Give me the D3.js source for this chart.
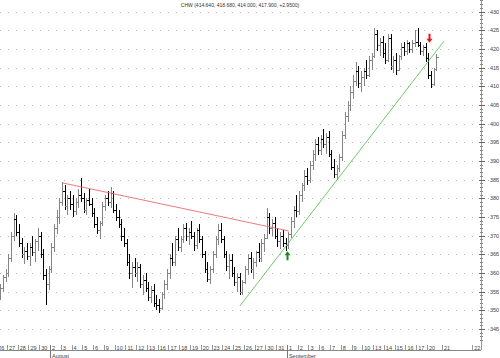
<!DOCTYPE html>
<html><head><meta charset="utf-8">
<script src="https://cdn.jsdelivr.net/npm/d3@7"></script>
<style>body{margin:0;background:#fff}svg{display:block}text{font-family:"Liberation Sans",Arial,sans-serif}</style>
</head><body><svg id="c" width="500" height="358"></svg>
<script>
const title = "CHW (414.640, 418.680, 414.000, 417.900, +2.9500)";
const dayLabels = ["26","27","28","29","30","2","3","4","5","6","9","10","11","12","13","16","17","18","19","20","23","24","25","26","27","30","31","1","2","3","6","7","8","9","10","13","14","15","16","17","20","21","22"];
const dayPos = [0,1,2,3,4,5,6,7,8,9,10,11,12,13,14,15,16,17,18,19,20,21,22,23,24,25,26,27,28,29,30,31,32,33,34,35,36,37,38,39,40,41.4,44.2];
const monthLabels = ["August","September"];
const monthPos = [5,27];
const barsPerDay = 4;
const yTicks = [345,350,355,360,365,370,375,380,385,390,395,400,405,410,415,420,425,430];
const opens = [
356,354.5,356,358.8, 360,364,370,374.5, 371,368,365,366, 364.5,367,365.5,368.5, 370,365,359.5,357,
361,367,372,375, 379,382,378,380, 378.5,376.5,379,381, 380,377,379.5,378.5, 376,373,371.5,373.5,
378,380,379,381.5, 377,375,373,370, 368,363,360,361.5, 360,361.5,357,358, 356,353.5,355.5,352,
351.5,350.5,354.5,357, 360,364,363,369, 367,369,372,370, 371,370,367.5,371.5, 369,365,361,358.5,
361,365,369,371.5, 369,365,362,363.5, 360,357.5,359,355, 357.5,361,364,361, 363,365.5,364,368,
369.5,375,372,373.5, 370,368.5,370,368, 367.5,370.5,374,377, 376.5,381,383.5,386, 385,389,392,394.5,
393,396,394.5,396.5, 392,388.5,386.5,388, 391,397,402,405, 408.5,411.5,414,411, 412.5,414,413,417,
418,424,421,422, 419,417,423,415.5, 417,414.5,418,420.5, 419.5,421.5,420,421.5, 422,421,419.5,420.5,
417.5,413,410.5,414.64];
const highs = [
358,357,359.5,361, 365,371,376,375.5, 373,369.5,367,368, 368,370,369,372, 371,366.5,361,362,
368,373,377,380, 384.5,383.5,381,382, 381,380,382.5,385.5, 381.5,380,382.5,380, 377.5,375,374,379,
381,382,383,382, 378.5,377,374.5,372, 369,365,363,364, 363,362.5,359.5,360, 357.5,356.5,357,354,
353,355,358,361, 365,368,370,372, 370,373,373.5,372, 374,371,372,373, 370,366,363,362,
366,370,373,373.5, 370,366,365,365, 361.5,360,360,358, 362,365,365.5,364, 366,368,369,370.5,
377.5,376,374.5,375, 372,371,371.5,369.5, 371,375,378,381, 382,384,387.5,388, 390,393,396,396.5,
397,398.5,397.5,398, 393,390.5,389,392, 398,403,406,410, 413,416.5,415.5,414, 415,417,418,419,
425.5,425,423,423.5, 421.5,424,424,418, 419,418.5,421.5,422, 422.5,422,422.5,425, 425.5,422,421,421.5,
419,414,415,418.68];
const lows = [
353.5,352.8,355,357.5, 359,363,368.5,370, 367,364,362.5,363.5, 362,364.5,363,366, 364,358,351.5,355.5,
360,365.5,370.5,373, 378,377,375.5,377, 375,375.5,377.5,379, 376,375.5,378,375, 372,370.5,369,372.5,
376.5,378,377.5,376, 374,372,368.5,367, 362,358.5,356,359, 357.5,356,354,355, 352.5,352,351,350,
349.3,350,353,355.5, 358.5,362,362,366, 365.5,368,368.5,367.5, 369,366,366.5,368, 364,360,357.5,357,
360,364,367.5,368, 364,360.5,358.5,359, 356.5,355,354,354, 357,359.5,360,358.5, 361.5,363,363,365.5,
369,370.5,370,369, 367,366.5,367,366, 366.5,369.5,372,375, 375.5,379,382,383.5, 384,387.5,390,391.5,
391.5,393.5,392,391, 387.5,385.5,385,387, 390,396,400.5,403.5, 406.5,410,409.5,408.5, 410,412,412.5,414.5,
417.5,419.5,418,417.5, 416,416.5,414.5,413.5, 413,414,417,418, 418.5,419,419,420.5, 420.5,418.5,418,416.5,
412,409.5,410,414];
const closes = [
354.5,356,358.8,360, 364,370,374.5,371, 368,365,366,364.5, 367,365.5,368.5,370, 365,359.5,357,361,
367,372,375,379, 382,378,380,378.5, 376.5,379,381,380, 377,379.5,378.5,376, 373,371.5,373.5,378,
380,379,381.5,377, 375,373,370,368, 363,360,361.5,360, 361.5,357,358,356, 353.5,355.5,352,351.5,
350.5,354.5,357,360, 364,363,369,367, 369,372,370,371, 370,367.5,371.5,369, 365,361,358.5,361,
365,369,371.5,369, 365,362,363.5,360, 357.5,359,355,357.5, 361,364,361,363, 365.5,364,368,369.5,
375,372,373.5,370, 368.5,370,368,367.5, 370.5,374,377,376.5, 381,383.5,386,385, 389,392,394.5,393,
396,394.5,396.5,392, 388.5,386.5,388,391, 397,402,405,408.5, 411.5,414,411,412.5, 414,413,417,418,
424,421,422,419, 417,423,415.5,417, 414.5,418,420.5,419.5, 421.5,420,421.5,422, 421,419.5,420.5,417.5,
413,410.5,414.6,417.9];
const redLineDay = [6.21, 27.19];
const redLinePrice = [384.1, 371.25];
const greenLineDay = [22.64, 41.58];
const greenLinePrice = [351.2, 422.1];
const upArrowDay = 27.0, upArrowPrice = 364.5;
const downArrowDay = 40.2, downArrowPrice = 423;

const svg = d3.select("#c");
const x = d3.scaleLinear().domain([0, 41]).range([-3.86, 437.7]);
const y = d3.scaleLinear().domain([345, 430]).range([329, 11.67]);

// grid
svg.append("g").selectAll("line").data(yTicks).join("line")
  .attr("x1", 0).attr("x2", 500)
  .attr("y1", d => Math.round(y(d)) + 0.5).attr("y2", d => Math.round(y(d)) + 0.5)
  .attr("stroke", "#b4b4b4").attr("stroke-dasharray", "1,7");

// bars
const bars = opens.map((o, i) => ({o, h: highs[i], l: lows[i], c: closes[i], t: Math.floor(i / barsPerDay) + ((i % barsPerDay) + 0.5) / barsPerDay}));
const gb = svg.append("g").attr("shape-rendering", "crispEdges");
bars.forEach(b => {
  const xc = Math.round(x(b.t));
  const col = b.c >= b.o ? "#858585" : "#000";
  const yh = Math.round(y(b.h)), yl = Math.round(y(b.l));
  gb.append("rect").attr("x", xc).attr("y", yh).attr("width", 1).attr("height", Math.max(1, yl - yh)).attr("fill", col);
  gb.append("rect").attr("x", xc - 2).attr("y", Math.round(y(b.o))).attr("width", 2).attr("height", 1).attr("fill", col);
  gb.append("rect").attr("x", xc + 1).attr("y", Math.round(y(b.c))).attr("width", 2).attr("height", 1).attr("fill", col);
});

// trend lines
svg.append("line").attr("x1", x(redLineDay[0])).attr("y1", y(redLinePrice[0]))
  .attr("x2", x(redLineDay[1])).attr("y2", y(redLinePrice[1])).attr("stroke", "#f06a6a").attr("stroke-width", 0.9);
svg.append("line").attr("x1", x(greenLineDay[0])).attr("y1", y(greenLinePrice[0]))
  .attr("x2", x(greenLineDay[1])).attr("y2", y(greenLinePrice[1])).attr("stroke", "#5cc45c").attr("stroke-width", 0.9);

// arrows
function arrow(cx, cy, dir, col) {
  const s = dir; // -1 up, 1 down
  const p = `M${cx-3},${cy+s*1}L${cx},${cy+s*5}L${cx+3},${cy+s*1}L${cx+1},${cy+s*1}L${cx+1},${cy-s*4}L${cx-1},${cy-s*4}L${cx-1},${cy+s*1}Z`;
  svg.append("path").attr("d", p).attr("fill", col);
}
arrow(Math.round(x(upArrowDay)) + 0.5, y(upArrowPrice), -1, "#1d8a1d");
arrow(Math.round(x(downArrowDay)) + 0.5, y(downArrowPrice), 1, "#e41a1a");

// right axis
const ga = svg.append("g").attr("shape-rendering", "crispEdges");
ga.append("line").attr("x1", 481.5).attr("x2", 481.5).attr("y1", 0).attr("y2", 350).attr("stroke", "#9a9a9a");
const minor = d3.range(342, 434, 1);
ga.selectAll(".mn").data(minor).join("line")
  .attr("x1", 480).attr("x2", 483)
  .attr("y1", d => Math.round(y(d)) + 0.5).attr("y2", d => Math.round(y(d)) + 0.5)
  .attr("stroke", "#888");
ga.selectAll(".mj").data(yTicks).join("line")
  .attr("x1", 479).attr("x2", 485)
  .attr("y1", d => Math.round(y(d)) + 0.5).attr("y2", d => Math.round(y(d)) + 0.5)
  .attr("stroke", "#666");
svg.append("g").selectAll("text").data(yTicks).join("text")
  .attr("x", 490).attr("y", d => y(d) + 2)
  .attr("font-size", 5.5).attr("fill", "#444").text(d => d);

// bottom axis
ga.append("line").attr("x1", 0).attr("x2", 481).attr("y1", 350.5).attr("y2", 350.5).attr("stroke", "#888");
ga.selectAll(".sep").data(dayPos).join("line")
  .attr("x1", d => Math.round(x(d)) + 0.5).attr("x2", d => Math.round(x(d)) + 0.5)
  .attr("y1", 345).attr("y2", 350).attr("stroke", "#999");
ga.selectAll(".msep").data(monthPos).join("line")
  .attr("x1", d => Math.round(x(d)) + 0.5).attr("x2", d => Math.round(x(d)) + 0.5)
  .attr("y1", 345).attr("y2", 358).attr("stroke", "#777");
svg.append("g").selectAll("text").data(dayLabels).join("text")
  .attr("x", (d, i) => x(dayPos[i]) + 2).attr("y", 349.5)
  .attr("font-size", 5.5).attr("fill", "#444").text(d => d);
svg.append("g").selectAll("text").data(monthLabels).join("text")
  .attr("x", (d, i) => x(monthPos[i]) + 2).attr("y", 357.5)
  .attr("font-size", 5.5).attr("fill", "#444").text(d => d);

// title
svg.append("text").attr("x", 240).attr("y", 6.5).attr("text-anchor", "middle")
  .attr("font-size", 5).attr("fill", "#333").text(title);
</script></body></html>
